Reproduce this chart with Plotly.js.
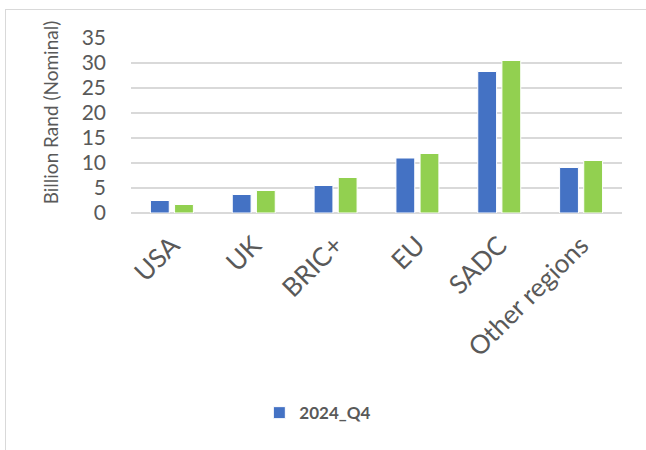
<!DOCTYPE html>
<html>
<head>
<meta charset="utf-8">
<script src="https://cdn.plot.ly/plotly-3.0.1.min.js"></script>
<style>
html,body{margin:0;padding:0;background:#fff;}
#wrap{position:relative;width:646px;height:450px;overflow:hidden;}
#chart{position:absolute;left:0;top:0;width:646px;height:450px;}
#frame{position:absolute;left:5px;top:9px;width:700px;height:500px;border-top:1.5px solid #d9d9d9;border-left:1.5px solid #d9d9d9;pointer-events:none;}
</style>
</head>
<body>
<div id="wrap"><div id="chart"></div><div id="frame"></div></div>
<script>
var categories = ["USA", "UK", "BRIC+", "EU", "SADC", "Other regions"];
var seriesA = [2.5, 3.7, 5.5, 11.0, 28.3, 9.1];
var seriesB = [1.7, 4.5, 7.1, 11.9, 30.5, 10.5];
var yTicks = [0, 5, 10, 15, 20, 25, 30, 35];
var legendName = "2024_Q4";
var yTitle = "Billion Rand (Nominal)";

var font = "Lato, 'Open Sans', sans-serif";
var grey = "#595959";

var traces = [
  {type:"bar", x:categories, y:seriesA, name:legendName,
   marker:{color:"#4472c4", line:{color:"#ffffff", width:1}}, showlegend:true},
  {type:"bar", x:categories, y:seriesB, name:"",
   marker:{color:"#92d050", line:{color:"#ffffff", width:1}}, showlegend:false}
];

var layout = {
  width:646, height:450,
  margin:{l:131, r:24, t:38, b:237, pad:0},
  paper_bgcolor:"#ffffff", plot_bgcolor:"#ffffff",
  barmode:"group", bargap:0.41, bargroupgap:0.22,
  font:{family:font, color:grey, size:21},
  xaxis:{
    type:"category", tickangle:-45, ticks:"", showgrid:false,
    showline:false, zeroline:false,
    tickfont:{family:font, size:26, color:grey},
    ticklabelstandoff:11
  },
  yaxis:{
    range:[0,35], tickvals:yTicks, ticktext:yTicks.map(String),
    ticks:"", showline:false, zeroline:true, zerolinecolor:"#d9d9d9", zerolinewidth:1.5,
    gridcolor:"#d9d9d9", gridwidth:1.5,
    tickfont:{family:font, size:21, color:grey},
    ticklabelstandoff:24
  },
  annotations:[{
    text:yTitle, textangle:-90, showarrow:false,
    xref:"paper", yref:"paper",
    x:(50-131)/491, y:(212.7-112)/175, xanchor:"center", yanchor:"middle",
    font:{family:font, size:19, color:grey}
  }],
  showlegend:true,
  legend:{orientation:"h", x:0.492, xref:"container", xanchor:"center",
          y:0.082, yref:"container", yanchor:"middle",
          font:{family:font, size:17, color:grey, weight:"bold"},
          itemwidth:30, bgcolor:"rgba(0,0,0,0)"}
};

Plotly.newPlot("chart", traces, layout, {staticPlot:true, displayModeBar:false});
</script>
</body>
</html>
